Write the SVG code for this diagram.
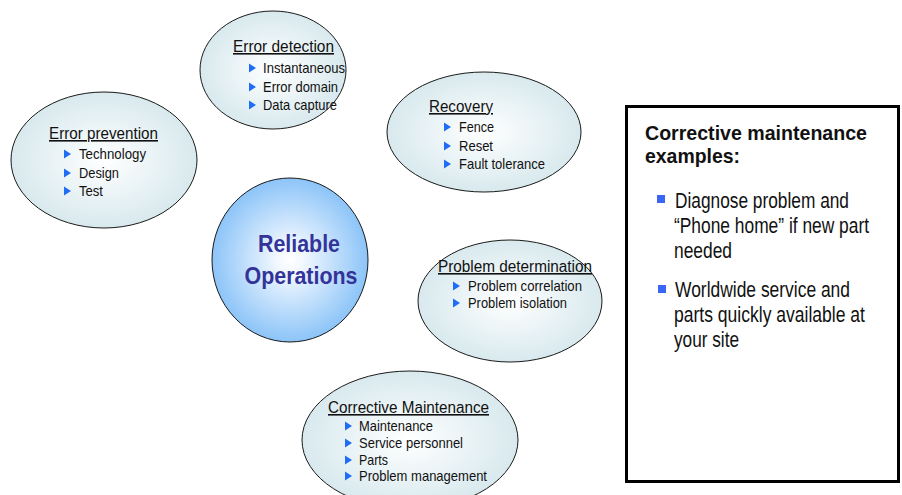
<svg xmlns="http://www.w3.org/2000/svg" width="902" height="495" viewBox="0 0 902 495">
<defs>
<radialGradient id="gE" cx="50%" cy="50%" r="50%">
<stop offset="0" stop-color="#ffffff"/>
<stop offset="1" stop-color="#d8e9ee"/>
</radialGradient>
<radialGradient id="gC" cx="50%" cy="50%" r="50%">
<stop offset="0" stop-color="#ffffff"/>
<stop offset="0.15" stop-color="#f4f9ff"/>
<stop offset="1" stop-color="#8cc4f8"/>
</radialGradient>
<path id="tri" d="M0,-4.5 L7,0 L0,4.5 Z" fill="#1f6cf5"/>
<style>
.el{fill:url(#gE);stroke:#1a1a1a;stroke-width:1}
.t{font-family:"Liberation Sans",Arial,sans-serif;fill:#111;font-size:16px;text-decoration:underline}
.i{font-family:"Liberation Sans",Arial,sans-serif;fill:#111;font-size:14.5px}
.c{font-family:"Liberation Sans",Arial,sans-serif;fill:#333399;font-size:24px;font-weight:bold}
.bt{font-family:"Liberation Sans",Arial,sans-serif;fill:#111;font-size:21px;font-weight:bold}
.bx{font-family:"Liberation Sans",Arial,sans-serif;fill:#111;font-size:22px}
</style>
</defs>
<rect width="902" height="495" fill="#ffffff"/>

<g id="connectors"></g>

<g id="error-detection">
<ellipse class="el" cx="273" cy="70" rx="73" ry="59"/>
<text class="t" x="233" y="52" textLength="101" lengthAdjust="spacingAndGlyphs">Error detection</text>
<use href="#tri" x="249" y="68"/><text class="i" x="263" y="73" textLength="82" lengthAdjust="spacingAndGlyphs">Instantaneous</text>
<use href="#tri" x="249" y="87"/><text class="i" x="263" y="92" textLength="75" lengthAdjust="spacingAndGlyphs">Error domain</text>
<use href="#tri" x="249" y="105"/><text class="i" x="263" y="110" textLength="74" lengthAdjust="spacingAndGlyphs">Data capture</text>
</g>

<g id="error-prevention">
<ellipse class="el" cx="104" cy="160" rx="93" ry="68"/>
<text class="t" x="49" y="139" textLength="109" lengthAdjust="spacingAndGlyphs">Error prevention</text>
<use href="#tri" x="64" y="154"/><text class="i" x="79" y="159" textLength="67" lengthAdjust="spacingAndGlyphs">Technology</text>
<use href="#tri" x="64" y="173"/><text class="i" x="79" y="178" textLength="40" lengthAdjust="spacingAndGlyphs">Design</text>
<use href="#tri" x="64" y="191"/><text class="i" x="79" y="196" textLength="24" lengthAdjust="spacingAndGlyphs">Test</text>
</g>

<g id="recovery">
<ellipse class="el" cx="484" cy="132" rx="97" ry="60"/>
<text class="t" x="429" y="112" textLength="64" lengthAdjust="spacingAndGlyphs">Recovery</text>
<use href="#tri" x="444" y="127"/><text class="i" x="459" y="132" textLength="35" lengthAdjust="spacingAndGlyphs">Fence</text>
<use href="#tri" x="444" y="146"/><text class="i" x="459" y="151" textLength="34" lengthAdjust="spacingAndGlyphs">Reset</text>
<use href="#tri" x="444" y="164"/><text class="i" x="459" y="169" textLength="86" lengthAdjust="spacingAndGlyphs">Fault tolerance</text>
</g>

<g id="reliable-operations">
<ellipse cx="290" cy="260" rx="78" ry="82" fill="url(#gC)" stroke="#1a1a1a" stroke-width="1"/>
<text class="c" x="299" y="252" text-anchor="middle" textLength="82" lengthAdjust="spacingAndGlyphs">Reliable</text>
<text class="c" x="301" y="284" text-anchor="middle" textLength="113" lengthAdjust="spacingAndGlyphs">Operations</text>
</g>

<g id="problem-determination">
<ellipse class="el" cx="510" cy="301" rx="92" ry="61"/>
<text class="t" x="438" y="272" textLength="154" lengthAdjust="spacingAndGlyphs">Problem determination</text>
<use href="#tri" x="453" y="286"/><text class="i" x="468" y="291" textLength="114" lengthAdjust="spacingAndGlyphs">Problem correlation</text>
<use href="#tri" x="453" y="303"/><text class="i" x="468" y="308" textLength="99" lengthAdjust="spacingAndGlyphs">Problem isolation</text>
</g>

<g id="corrective-maintenance">
<ellipse class="el" cx="410" cy="440" rx="108" ry="69"/>
<text class="t" x="328" y="413" textLength="161" lengthAdjust="spacingAndGlyphs">Corrective Maintenance</text>
<use href="#tri" x="345" y="426"/><text class="i" x="359" y="431" textLength="74" lengthAdjust="spacingAndGlyphs">Maintenance</text>
<use href="#tri" x="345" y="443"/><text class="i" x="359" y="448" textLength="104" lengthAdjust="spacingAndGlyphs">Service personnel</text>
<use href="#tri" x="345" y="460"/><text class="i" x="359" y="465" textLength="29" lengthAdjust="spacingAndGlyphs">Parts</text>
<use href="#tri" x="345" y="476"/><text class="i" x="359" y="481" textLength="128" lengthAdjust="spacingAndGlyphs">Problem management</text>
</g>

<g id="examples-box">
<rect x="626.5" y="106.5" width="272" height="375" fill="#ffffff" stroke="#000" stroke-width="3"/>
<text class="bt" x="645" y="140" textLength="222" lengthAdjust="spacingAndGlyphs">Corrective maintenance</text>
<text class="bt" x="645" y="163" textLength="95" lengthAdjust="spacingAndGlyphs">examples:</text>
<rect x="657" y="195" width="8" height="8" fill="#3a66f5"/>
<text class="bx" transform="matrix(0.8,0,0,1,675,208)" x="0" y="0" textLength="217.5" lengthAdjust="spacingAndGlyphs">Diagnose problem and</text>
<text class="bx" transform="matrix(0.8,0,0,1,674,233)" x="0" y="0" textLength="243.75" lengthAdjust="spacingAndGlyphs">“Phone home” if new part</text>
<text class="bx" transform="matrix(0.8,0,0,1,674,258)" x="0" y="0" textLength="72.5" lengthAdjust="spacingAndGlyphs">needed</text>
<rect x="658" y="285" width="8" height="8" fill="#3a66f5"/>
<text class="bx" transform="matrix(0.8,0,0,1,675,297)" x="0" y="0" textLength="218.75" lengthAdjust="spacingAndGlyphs">Worldwide service and</text>
<text class="bx" transform="matrix(0.8,0,0,1,674,322)" x="0" y="0" textLength="238.75" lengthAdjust="spacingAndGlyphs">parts quickly available at</text>
<text class="bx" transform="matrix(0.8,0,0,1,674,347)" x="0" y="0" textLength="81.25" lengthAdjust="spacingAndGlyphs">your site</text>
</g>
</svg>
